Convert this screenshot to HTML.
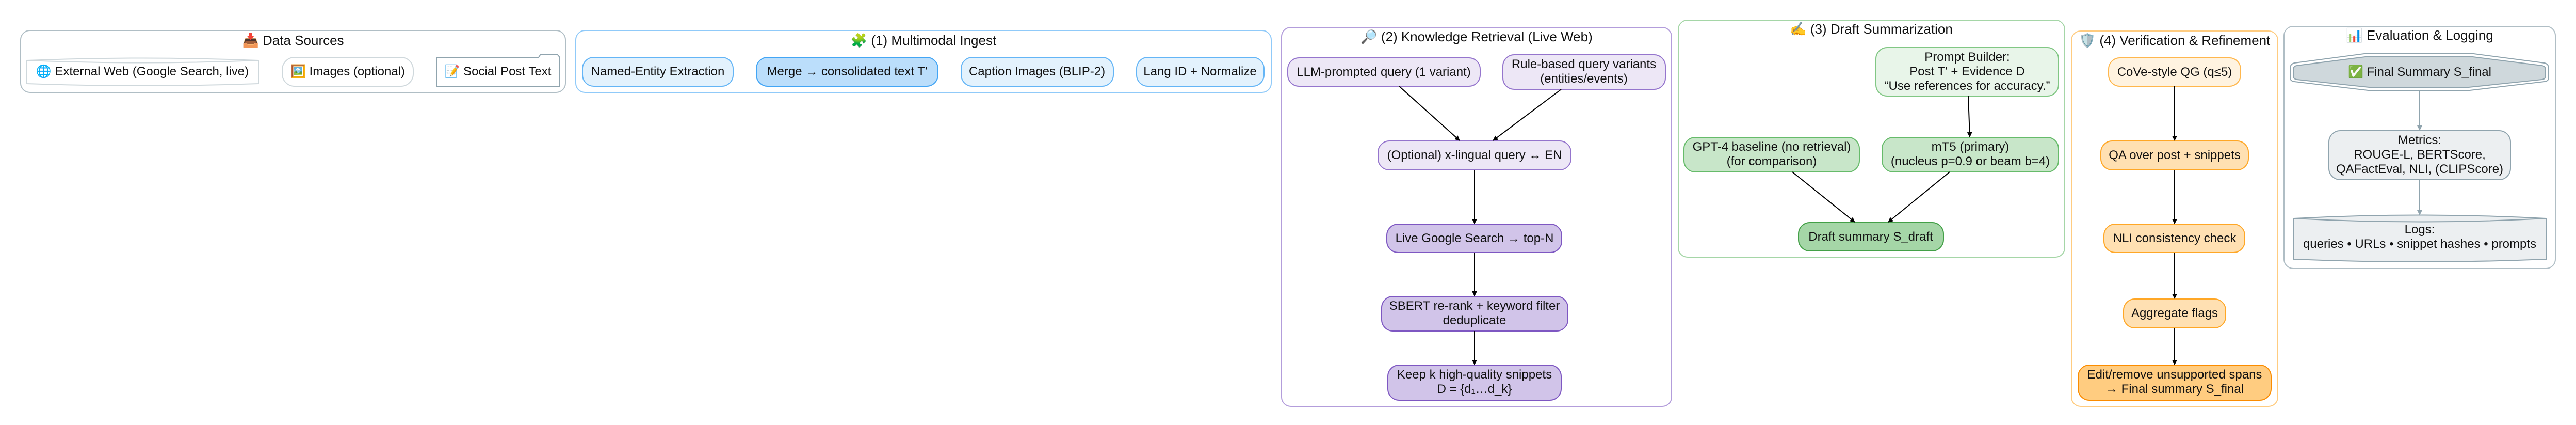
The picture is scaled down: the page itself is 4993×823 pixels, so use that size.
<!DOCTYPE html>
<html><head><meta charset="utf-8"><style>
html,body{margin:0;padding:0;background:#fff;}
svg{display:block;}
text{font-family:"Liberation Sans",Arial,sans-serif;font-size:24px;fill:#111;text-anchor:middle;}
.t{font-size:26px;}
</style></head><body>
<svg width="4993" height="823" viewBox="0 0 4993 823" xmlns="http://www.w3.org/2000/svg">
<defs>
<marker id="a" markerWidth="10" markerHeight="10" refX="9" refY="5" orient="auto" markerUnits="userSpaceOnUse" viewBox="0 0 10 10"><path d="M0,0 L10,5 L0,10 z" fill="#000"/></marker>
<marker id="g" markerWidth="10" markerHeight="10" refX="9" refY="5" orient="auto" markerUnits="userSpaceOnUse" viewBox="0 0 10 10"><path d="M0,0 L10,5 L0,10 z" fill="#90a4ae"/></marker>
</defs>

<!-- Data Sources -->
<rect x="40" y="59" width="1056" height="120" rx="18" fill="#fff" stroke="#b0bec5" stroke-width="2"/>
<text class="t" x="568" y="87">📥 Data Sources</text>
<path d="M52,117 Q276,108 501,117 L501,162 Q276,170 52,162 Z" fill="#fff" stroke="#cfd8dc" stroke-width="2"/>
<path d="M52,117 Q276,126 501,117" fill="none" stroke="#cfd8dc" stroke-width="2"/>
<text x="276" y="146">🌐 External Web (Google Search, live)</text>
<rect x="547" y="111" width="254" height="56" rx="24" fill="#fff" stroke="#cfd8dc" stroke-width="2"/>
<text x="674" y="146">🖼️ Images (optional)</text>
<path d="M846,111 L1044,111 L1048,105 L1080,105 L1085,111 L1085,167 L846,167 Z" fill="#fff" stroke="#90a4ae" stroke-width="2"/>
<text x="965" y="146">📝 Social Post Text</text>

<!-- Multimodal Ingest -->
<rect x="1116" y="59" width="1348" height="120" rx="18" fill="#fff" stroke="#90caf9" stroke-width="2"/>
<text class="t" x="1790" y="87">🧩 (1) Multimodal Ingest</text>
<rect x="1129" y="111" width="292" height="56" rx="22" fill="#e3f2fd" stroke="#64b5f6" stroke-width="2"/>
<text x="1275" y="146">Named-Entity Extraction</text>
<rect x="1466" y="111" width="352" height="56" rx="22" fill="#bbdefb" stroke="#42a5f5" stroke-width="2"/>
<text x="1642" y="146">Merge → consolidated text  T′</text>
<rect x="1863" y="111" width="295" height="56" rx="22" fill="#e3f2fd" stroke="#64b5f6" stroke-width="2"/>
<text x="2010" y="146">Caption Images (BLIP-2)</text>
<rect x="2203" y="111" width="247" height="56" rx="22" fill="#e3f2fd" stroke="#64b5f6" stroke-width="2"/>
<text x="2326" y="146">Lang ID + Normalize</text>

<!-- Knowledge Retrieval -->
<rect x="2484" y="53" width="756" height="734" rx="18" fill="#fff" stroke="#b39ddb" stroke-width="2"/>
<text class="t" x="2862" y="80">🔎 (2) Knowledge Retrieval (Live Web)</text>
<rect x="2496" y="112" width="373" height="55" rx="22" fill="#ede7f6" stroke="#9575cd" stroke-width="2"/>
<text x="2682" y="147">LLM-prompted query (1 variant)</text>
<rect x="2913" y="106" width="315" height="67" rx="22" fill="#ede7f6" stroke="#9575cd" stroke-width="2"/>
<text x="3070" y="132">Rule-based query variants</text>
<text x="3070" y="160">(entities/events)</text>
<rect x="2671" y="273" width="374" height="56" rx="22" fill="#ede7f6" stroke="#9575cd" stroke-width="2"/>
<text x="2858" y="308">(Optional) x-lingual query ↔ EN</text>
<rect x="2688" y="434" width="339" height="55" rx="22" fill="#d1c4e9" stroke="#7e57c2" stroke-width="2"/>
<text x="2858" y="469">Live Google Search → top-N</text>
<rect x="2678" y="574" width="361" height="67" rx="22" fill="#d1c4e9" stroke="#7e57c2" stroke-width="2"/>
<text x="2858" y="600">SBERT re-rank + keyword filter</text>
<text x="2858" y="628">deduplicate</text>
<rect x="2690" y="707" width="336" height="68" rx="22" fill="#d1c4e9" stroke="#7e57c2" stroke-width="2"/>
<text x="2858" y="733">Keep k high-quality snippets</text>
<text x="2858" y="761">D = {d₁…d_k}</text>
<g stroke="#000" stroke-width="2" fill="none">
<line x1="2712" y1="167" x2="2829" y2="272" marker-end="url(#a)"/>
<line x1="3026" y1="173" x2="2894" y2="272" marker-end="url(#a)"/>
<line x1="2858" y1="329" x2="2858" y2="433" marker-end="url(#a)"/>
<line x1="2858" y1="489" x2="2858" y2="573" marker-end="url(#a)"/>
<line x1="2858" y1="641" x2="2858" y2="706" marker-end="url(#a)"/>
</g>

<!-- Draft Summarization -->
<rect x="3253" y="39" width="749" height="459" rx="18" fill="#fff" stroke="#a5d6a7" stroke-width="2"/>
<text class="t" x="3627" y="65">✍️ (3) Draft Summarization</text>
<rect x="3636" y="92" width="354" height="94" rx="22" fill="#e8f5e9" stroke="#81c784" stroke-width="2"/>
<text x="3813" y="118">Prompt Builder:</text>
<text x="3813" y="146">Post T′ + Evidence D</text>
<text x="3813" y="174">“Use references for accuracy.”</text>
<rect x="3264" y="266" width="340" height="67" rx="22" fill="#c8e6c9" stroke="#66bb6a" stroke-width="2"/>
<text x="3434" y="292">GPT-4 baseline (no retrieval)</text>
<text x="3434" y="320">(for comparison)</text>
<rect x="3648" y="266" width="342" height="67" rx="22" fill="#c8e6c9" stroke="#66bb6a" stroke-width="2"/>
<text x="3819" y="292">mT5 (primary)</text>
<text x="3819" y="320">(nucleus p=0.9 or beam b=4)</text>
<rect x="3486" y="431" width="281" height="55" rx="22" fill="#a5d6a7" stroke="#43a047" stroke-width="2"/>
<text x="3626" y="466">Draft summary  S_draft</text>
<g stroke="#000" stroke-width="2" fill="none">
<line x1="3815" y1="186" x2="3818" y2="265" marker-end="url(#a)"/>
<line x1="3474" y1="333" x2="3595" y2="430" marker-end="url(#a)"/>
<line x1="3779" y1="333" x2="3660" y2="430" marker-end="url(#a)"/>
</g>

<!-- Verification -->
<rect x="4015" y="60" width="400" height="727" rx="18" fill="#fff" stroke="#ffcc80" stroke-width="2"/>
<text class="t" x="4215" y="87">🛡️ (4) Verification &amp; Refinement</text>
<rect x="4087" y="112" width="256" height="55" rx="22" fill="#fff3e0" stroke="#ffb74d" stroke-width="2"/>
<text x="4215" y="147">CoVe-style QG (q≤5)</text>
<rect x="4072" y="273" width="286" height="56" rx="22" fill="#ffe0b2" stroke="#ffa726" stroke-width="2"/>
<text x="4215" y="308">QA over post + snippets</text>
<rect x="4078" y="434" width="273" height="55" rx="22" fill="#ffe0b2" stroke="#ffa726" stroke-width="2"/>
<text x="4215" y="469">NLI consistency check</text>
<rect x="4116" y="579" width="198" height="56" rx="22" fill="#ffe0b2" stroke="#ffa726" stroke-width="2"/>
<text x="4215" y="614">Aggregate flags</text>
<rect x="4028" y="707" width="374" height="68" rx="22" fill="#ffcc80" stroke="#fb8c00" stroke-width="2"/>
<text x="4215" y="733">Edit/remove unsupported spans</text>
<text x="4215" y="761">→ Final summary  S_final</text>
<g stroke="#000" stroke-width="2" fill="none">
<line x1="4215" y1="167" x2="4215" y2="272" marker-end="url(#a)"/>
<line x1="4215" y1="329" x2="4215" y2="433" marker-end="url(#a)"/>
<line x1="4215" y1="489" x2="4215" y2="578" marker-end="url(#a)"/>
<line x1="4215" y1="635" x2="4215" y2="706" marker-end="url(#a)"/>
</g>

<!-- Evaluation & Logging -->
<rect x="4427" y="51" width="526" height="469" rx="18" fill="#fff" stroke="#b0bec5" stroke-width="2"/>
<text class="t" x="4690" y="77">📊 Evaluation &amp; Logging</text>
<path d="M4590,103 L4787,103 L4932,122 Q4940,124 4940,132 L4940,150 Q4940,157 4932,158 L4787,175 L4590,175 L4447,158 Q4439,157 4439,150 L4439,132 Q4439,124 4447,122 Z" fill="#fff" stroke="#90a4ae" stroke-width="2"/>
<path d="M4592,109 L4785,109 L4927,127 Q4934,128 4934,135 L4934,147 Q4934,153 4927,154 L4785,169 L4592,169 L4452,154 Q4445,153 4445,147 L4445,135 Q4445,128 4452,127 Z" fill="#cfd8dc" stroke="#90a4ae" stroke-width="2"/>
<text x="4690" y="147">✅ Final Summary  S_final</text>
<rect x="4514" y="253" width="352" height="95" rx="22" fill="#eceff1" stroke="#90a4ae" stroke-width="2"/>
<text x="4690" y="279">Metrics:</text>
<text x="4690" y="307">ROUGE-L, BERTScore,</text>
<text x="4690" y="335">QAFactEval, NLI, (CLIPScore)</text>
<path d="M4446,423 Q4690,410 4935,423 L4935,502 Q4690,512 4446,502 Z" fill="#eceff1" stroke="#90a4ae" stroke-width="2"/>
<path d="M4446,423 Q4690,436 4935,423" fill="none" stroke="#90a4ae" stroke-width="2"/>
<text x="4690" y="452">Logs:</text>
<text x="4690" y="480">queries • URLs • snippet hashes • prompts</text>
<g stroke="#90a4ae" stroke-width="2" fill="none">
<line x1="4690" y1="176" x2="4690" y2="252" marker-end="url(#g)"/>
<line x1="4690" y1="348" x2="4690" y2="416" marker-end="url(#g)"/>
</g>
</svg>
</body></html>
